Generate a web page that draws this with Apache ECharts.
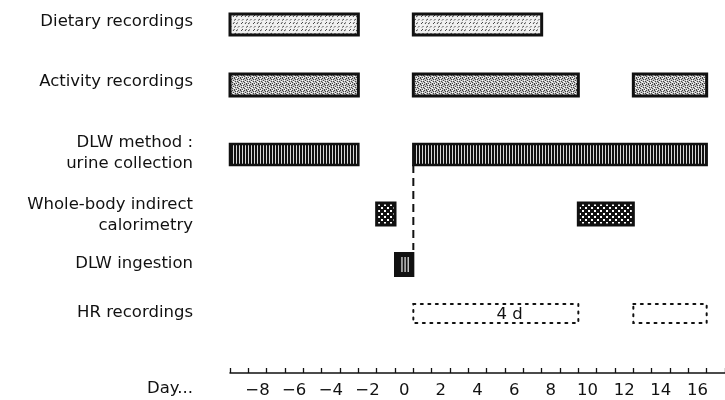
<!DOCTYPE html>
<html><head><meta charset="utf-8">
<script src="https://cdn.jsdelivr.net/npm/echarts@6/dist/echarts.min.js"></script>
<style>html,body{margin:0;padding:0;background:#fff}#c{width:725px;height:400px}</style>
</head><body><div id="c"></div>
<script>
// ---- data ----
const dayTicks = [-9,-8,-7,-6,-5,-4,-3,-2,-1,0,1,2,3,4,5,6,7,8,9,10,11,12,13,14,15,16,17];
const rowLabels = ['Dietary recordings','Activity recordings','DLW method :\nurine collection','Whole-body indirect\ncalorimetry','DLW ingestion','HR recordings'];
const axisTitle = 'Day...';
const dietary = [[-9,-3],[1,7]];
const activity = [[-9,-3],[1,9],[13,16]];
const dlwUrine = [[-9,-3],[1,16]];
const calorimetry = [[-1,-1],[10,12]];
const dlwIngestion = [[0,0]];
const hrRecordings = [[1,9],[13,16]];
const hrNote = ['4 d'];
const hrNoteDay = [5.75];
const doseLineDay = [0.5];

// ---- layout ----
const ROW_Y = [24.5, 85, 154.5, 214, 264.5, 313.5];
const BAR_H = [21, 22, 21, 22, 23, 19];
const LABEL_Y = [22, 82, 153, 215, 264, 313];
const TITLE_Y = 389;
const FONT = 'DejaVu Sans';

function makePattern(w, h, draw) {
  const c = document.createElement('canvas');
  c.width = w; c.height = h;
  const ctx = c.getContext('2d');
  draw(ctx);
  return { image: c, repeat: 'repeat' };
}
const patDiet = makePattern(12, 7, ctx => {
  ctx.fillStyle = '#f0f0f0'; ctx.fillRect(0,0,12,7);
  ctx.strokeStyle = '#444'; ctx.lineWidth = 1;
  [[1,3,3,1],[5,3,6.5,1],[8,3,10,1.5],[2,6.5,3.5,5],[6,6.5,8,5],[10,6.5,11.5,5]].forEach(s => {
    ctx.beginPath(); ctx.moveTo(s[0], s[1]); ctx.lineTo(s[2], s[3]); ctx.stroke();
  });
});
const patAct = makePattern(6, 6, ctx => {
  ctx.fillStyle = '#c4c4c4'; ctx.fillRect(0,0,6,6);
  ctx.fillStyle = '#444';
  [[0,0],[3,1],[1,3],[4,4],[2,5],[5,2],[1,1],[4,0],[0,5],[3,3]].forEach(p => ctx.fillRect(p[0],p[1],1,1));
  ctx.fillStyle = '#fff';
  [[2,0],[5,3],[0,4],[3,5],[2,2]].forEach(p => ctx.fillRect(p[0],p[1],1,1));
});
const patDLW = makePattern(3, 2, ctx => {
  ctx.fillStyle = '#111'; ctx.fillRect(0,0,3,2);
  ctx.fillStyle = '#d8d8d8'; ctx.fillRect(2,0,1,2);
});
const patCal = makePattern(6, 6, ctx => {
  ctx.fillStyle = '#111'; ctx.fillRect(0,0,6,6);
  ctx.fillStyle = '#fff';
  ctx.fillRect(0,0,2,2); ctx.fillRect(3,3,2,2);
});

function barSeries(data, row, style, extra) {
  return {
    type: 'custom', xAxisIndex: 1, yAxisIndex: 0, silent: true,
    data: data, encode: { x: [0, 1] },
    renderItem: function (params, api) {
      const s = api.value(0), e = api.value(1);
      const p0 = api.coord([s - 0.5, ROW_Y[row]]);
      const p1 = api.coord([e + 0.5, ROW_Y[row]]);
      const h = BAR_H[row];
      const rect = { x: p0[0], y: p0[1] - h / 2, width: p1[0] - p0[0], height: h };
      const children = [{ type: 'rect', shape: rect, style: style }];
      if (extra) extra(rect, children);
      return { type: 'group', children: children };
    }
  };
}

const chart = echarts.init(document.getElementById('c'), null, { renderer: 'canvas' });
chart.setOption({
  backgroundColor: '#fff',
  animation: false,
  grid: { left: 230, top: 0, width: 497, height: 373 },
  xAxis: [{
    type: 'category', data: dayTicks, boundaryGap: true, position: 'bottom',
    axisLine: { onZero: false, lineStyle: { color: '#111', width: 1.5 } },
    axisTick: { show: true, inside: true, length: 5, interval: 0, alignWithLabel: false, lineStyle: { color: '#111', width: 1.3 } },
    axisLabel: {
      interval: function (i, v) { const n = Number(v); return n % 2 === 0 && n >= -8 && n <= 16; },
      formatter: function (v) { return String(v).replace('-', '\u2212'); },
      color: '#111', fontSize: 16.5, fontFamily: FONT, margin: 9
    },
    splitLine: { show: false }
  }, {
    type: 'value', min: -9.5, max: 17.5, show: false
  }],
  yAxis: { type: 'value', min: 0, max: 373, inverse: true, show: false },
  series: [
    barSeries(dietary, 0, { fill: patDiet, stroke: '#111', lineWidth: 3 }),
    barSeries(activity, 1, { fill: patAct, stroke: '#111', lineWidth: 3 }),
    barSeries(dlwUrine, 2, { fill: patDLW, stroke: '#111', lineWidth: 2.5 }),
    barSeries(calorimetry, 3, { fill: patCal, stroke: '#111', lineWidth: 3 }),
    barSeries(dlwIngestion, 4, { fill: '#111', stroke: '#111', lineWidth: 2 }, function (r, ch) {
      [0.38, 0.55, 0.72].forEach(f => ch.push({ type: 'line', shape: { x1: r.x + r.width * f, y1: r.y + 4, x2: r.x + r.width * f, y2: r.y + r.height - 4 }, style: { stroke: '#eee', lineWidth: 1.2 } }));
    }),
    barSeries(hrRecordings, 5, { fill: 'none', stroke: '#111', lineWidth: 2, lineDash: [2, 5.5], lineCap: 'round' }),
    {
      type: 'custom', xAxisIndex: 1, yAxisIndex: 0, silent: true,
      data: hrNoteDay.map((d, i) => [d, i]), encode: { x: 0 },
      renderItem: function (params, api) {
        const p = api.coord([api.value(0), ROW_Y[5]]);
        return { type: 'text', style: { text: hrNote[params.dataIndex], x: p[0], y: p[1] + 1, align: 'center', verticalAlign: 'middle', fill: '#111', font: '16.5px "' + FONT + '"' } };
      }
    },
    {
      type: 'custom', xAxisIndex: 1, yAxisIndex: 0, silent: true,
      data: doseLineDay.map(d => [d]), encode: { x: 0 },
      renderItem: function (params, api) {
        const a = api.coord([api.value(0), ROW_Y[2] + BAR_H[2] / 2]);
        const b = api.coord([api.value(0), ROW_Y[4] - BAR_H[4] / 2 - 3]);
        return { type: 'line', shape: { x1: a[0], y1: a[1], x2: b[0], y2: b[1] }, style: { stroke: '#111', lineWidth: 2, lineDash: [8, 5] } };
      }
    },
    {
      type: 'custom', xAxisIndex: 1, yAxisIndex: 0, silent: true,
      data: rowLabels.map((t, i) => [-9.5, i]), encode: { x: 0 },
      renderItem: function (params, api) {
        const i = params.dataIndex;
        const p = api.coord([api.value(0), LABEL_Y[i]]);
        return { type: 'text', style: { text: rowLabels[i], x: p[0] - 37, y: p[1], align: 'right', verticalAlign: 'middle', fill: '#111', font: '16.5px "' + FONT + '"', lineHeight: 21 } };
      }
    },
    {
      type: 'custom', xAxisIndex: 1, yAxisIndex: 0, silent: true,
      data: [[-9.5]], encode: { x: 0 },
      renderItem: function (params, api) {
        const p = api.coord([api.value(0), TITLE_Y]);
        return { type: 'text', style: { text: axisTitle, x: p[0] - 37, y: p[1], align: 'right', verticalAlign: 'middle', fill: '#111', font: '16.5px "' + FONT + '"' } };
      }
    }
  ]
});
</script></body></html>
